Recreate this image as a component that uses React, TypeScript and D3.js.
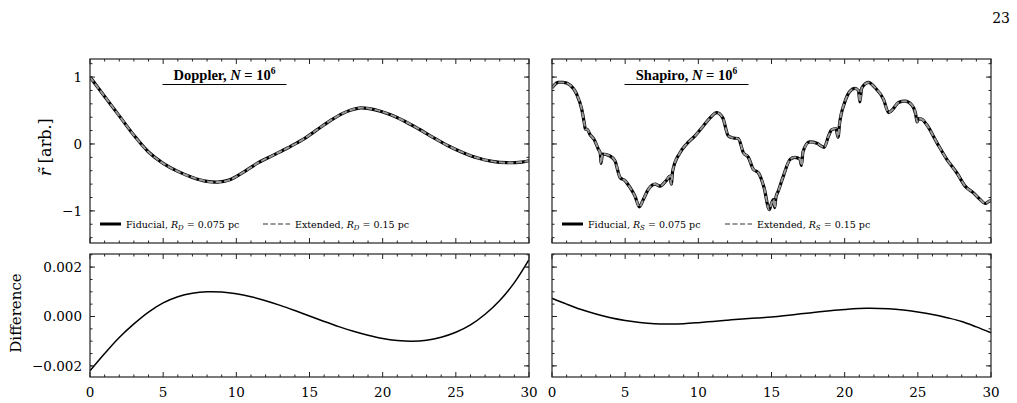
import React from "react";
import * as d3 from "d3";

// curve readings, x in [0, 30]
const dopX = [0, 1, 2, 3, 4, 5, 6, 7, 8, 8.7, 9.5, 10.5, 11.5, 12.5, 13.5, 14.5, 15.5, 16.5, 17.5, 18.5, 19.5, 20.5, 21.5, 22.5, 23.5, 24.5, 25.5, 26.5, 27.5, 28.5, 29.5, 30];
const dopY = [1.0, 0.71, 0.42, 0.13, -0.12, -0.29, -0.41, -0.5, -0.56, -0.57, -0.54, -0.42, -0.28, -0.17, -0.06, 0.06, 0.21, 0.36, 0.48, 0.54, 0.51, 0.44, 0.34, 0.22, 0.09, -0.03, -0.13, -0.21, -0.26, -0.28, -0.27, -0.25];

const shapX = [0, 0.43, 0.77, 1.23, 1.69, 2.03, 2.2, 2.28, 2.4, 2.6, 2.87, 3.17, 3.3, 3.35, 3.45, 3.96, 4.3, 4.65, 5.0, 5.33, 5.67, 5.97, 6.24, 6.58, 7.04, 7.38, 7.79, 8.07, 8.15, 8.25, 8.75, 9.2, 9.77, 10.34, 10.8, 11.26, 11.67, 12.05, 12.4, 12.73, 13.08, 13.42, 13.76, 14.1, 14.49, 14.85, 14.95, 15.13, 15.22, 15.3, 15.47, 15.81, 16.27, 16.6, 16.95, 17.05, 17.15, 17.6, 18.1, 18.6, 18.9, 19.1, 19.4, 19.55, 19.65, 20.0, 20.37, 20.7, 20.94, 21.04, 21.15, 21.24, 21.63, 22.08, 22.65, 23.0, 23.3, 23.67, 24.13, 24.6, 24.85, 24.95, 25.05, 25.27, 25.6, 26.3, 26.98, 27.66, 28.23, 28.8, 29.26, 29.6, 29.94, 30];
const shapY = [0.84, 0.92, 0.92, 0.88, 0.74, 0.52, 0.32, 0.22, 0.22, 0.14, 0.07, -0.08, -0.14, -0.29, -0.15, -0.18, -0.25, -0.5, -0.55, -0.65, -0.78, -0.94, -0.83, -0.68, -0.6, -0.63, -0.55, -0.48, -0.6, -0.4, -0.13, 0.0, 0.12, 0.27, 0.39, 0.47, 0.39, 0.12, 0.09, 0.08, -0.13, -0.2, -0.38, -0.43, -0.65, -0.98, -0.92, -0.83, -0.95, -0.8, -0.7, -0.48, -0.23, -0.2, -0.23, -0.32, -0.12, 0.03, 0.01, -0.05, 0.12, 0.21, 0.23, 0.1, 0.3, 0.62, 0.79, 0.83, 0.8, 0.63, 0.82, 0.86, 0.92, 0.84, 0.67, 0.47, 0.52, 0.62, 0.64, 0.58, 0.45, 0.33, 0.38, 0.37, 0.29, 0.02, -0.23, -0.43, -0.63, -0.73, -0.83, -0.89, -0.85, -0.85];

const diffDopX = [0, 1, 2, 3, 4, 5, 6, 7, 8, 9, 10, 11, 12, 13, 14, 15, 16, 17, 18, 19, 20, 21, 22, 23, 24, 25, 26, 27, 28, 29, 30];
const diffDopY = [-0.0022, -0.0015, -0.00085, -0.0003, 0.00018, 0.00055, 0.0008, 0.00094, 0.001, 0.00099, 0.00092, 0.0008, 0.00064, 0.00045, 0.00024, 0.00002, -0.0002, -0.00041, -0.0006, -0.00076, -0.00089, -0.00097, -0.001, -0.00096, -0.00084, -0.00064, -0.00034, 0.00009, 0.00065, 0.00137, 0.0023];

const diffShapX = [0, 1, 2, 3, 4, 5, 6, 7, 8, 9, 10, 11, 12, 13, 14, 15, 16, 17, 18, 19, 20, 21.5, 23, 24, 25, 26, 27, 28, 29, 30];
const diffShapY = [0.00074, 0.0005, 0.00028, 0.0001, -0.00005, -0.00016, -0.00024, -0.00029, -0.0003, -0.00029, -0.00025, -0.0002, -0.00015, -0.0001, -0.00006, -0.00002, 0.00004, 0.00011, 0.00017, 0.00023, 0.00028, 0.00033, 0.00031, 0.00026, 0.00018, 0.00008, -0.00005, -0.0002, -0.00042, -0.00066];

const xTicks = [0, 5, 10, 15, 20, 25, 30];
const xMinor = d3.range(0, 31, 1);
const rTicks = [-1, 0, 1];
const rLabels = ["\u22121", "0", "1"];
const rMinor = d3.range(-1.4, 1.25, 0.2);
const dTicks = [-0.002, 0, 0.002];
const dLabels = ["\u22120.002", "0.000", "0.002"];
const dMinor = d3.range(-0.002, 0.00251, 0.0005);

const FONT = "'DejaVu Serif', serif";
const LFONT = "'Liberation Serif', serif";
const FRAME = "#222";

type Frame = { x0: number; x1: number; y0: number; y1: number };

function Axes({ f, x, y, major, minor, labels, showY, showX }: any) {
  const T = 5, t = 2.5;
  const els: any[] = [];
  xMinor.forEach((v, i) => {
    const big = xTicks.includes(v);
    const L = big ? T : t;
    els.push(<line key={"xb" + i} x1={x(v)} x2={x(v)} y1={f.y1} y2={f.y1 - L} />);
    els.push(<line key={"xt" + i} x1={x(v)} x2={x(v)} y1={f.y0} y2={f.y0 + L} />);
  });
  minor.forEach((v: number, i: number) => {
    const yy = y(v);
    if (yy < f.y0 || yy > f.y1) return;
    els.push(<line key={"yl" + i} x1={f.x0} x2={f.x0 + t} y1={yy} y2={yy} />);
    els.push(<line key={"yr" + i} x1={f.x1} x2={f.x1 - t} y1={yy} y2={yy} />);
  });
  major.forEach((v: number, i: number) => {
    const yy = y(v);
    els.push(<line key={"Yl" + i} x1={f.x0} x2={f.x0 + T} y1={yy} y2={yy} />);
    els.push(<line key={"Yr" + i} x1={f.x1} x2={f.x1 - T} y1={yy} y2={yy} />);
  });
  return (
    <g>
      <g stroke={FRAME} strokeWidth={1}>{els}</g>
      <rect x={f.x0} y={f.y0} width={f.x1 - f.x0} height={f.y1 - f.y0} fill="none" stroke={FRAME} strokeWidth={1.2} />
      {showY &&
        major.map((v: number, i: number) => (
          <text key={"yt" + i} x={f.x0 - 8} y={y(v)} dy="0.36em" textAnchor="end" fontSize={13.5} fontFamily={FONT}>
            {labels[i]}
          </text>
        ))}
      {showX &&
        xTicks.map((v, i) => (
          <text key={"xl" + i} x={x(v)} y={f.y1 + 20} textAnchor="middle" fontSize={13.5} fontFamily={FONT}>
            {v}
          </text>
        ))}
    </g>
  );
}

function Legend({ x0, y, sub }: { x0: number; y: number; sub: string }) {
  return (
    <g fontFamily={FONT} fontSize={9.5}>
      <line x1={x0} x2={x0 + 21} y1={y} y2={y} stroke="#000" strokeWidth={3} />
      <text x={x0 + 26} y={y + 3.5}>
        Fiducial, <tspan fontStyle="italic">R</tspan>
        <tspan fontSize={7} dy={2} fontStyle="italic">{sub}</tspan>
        <tspan dy={-2}> = 0.075 pc</tspan>
      </text>
      <line x1={x0 + 163} x2={x0 + 190} y1={y} y2={y} stroke="#999" strokeWidth={2} strokeDasharray="5,2.5" />
      <text x={x0 + 195} y={y + 3.5}>
        Extended, <tspan fontStyle="italic">R</tspan>
        <tspan fontSize={7} dy={2} fontStyle="italic">{sub}</tspan>
        <tspan dy={-2}> = 0.15 pc</tspan>
      </text>
    </g>
  );
}

function Title({ cx, name }: { cx: number; name: string }) {
  return (
    <g fontFamily={LFONT} fontWeight="bold" fontSize={14.5}>
      <text x={cx} y={80} textAnchor="middle">
        {name}, <tspan fontStyle="italic">N</tspan> = 10<tspan fontSize={9.5} dy={-6}>6</tspan>
      </text>
      <line x1={cx - 62} x2={cx + 62} y1={84.5} y2={84.5} stroke="#000" strokeWidth={1} />
    </g>
  );
}

export default function App() {
  const W = 1017, H = 403;
  const cols = [
    { x0: 90, x1: 529 },
    { x0: 552, x1: 991 },
  ];
  const top = { y0: 59, y1: 243 };
  const bot = { y0: 254, y1: 377 };

  const panels = [
    { name: "Doppler", sub: "D", xs: dopX, ys: dopY, dx: diffDopX, dy: diffDopY },
    { name: "Shapiro", sub: "S", xs: shapX, ys: shapY, dx: diffShapX, dy: diffShapY },
  ];

  return (
    <svg width={W} height={H} style={{ position: "absolute", left: 0, top: 0, background: "#fff" }}>
      <text x={1010} y={23} textAnchor="end" fontSize={14} fontFamily={FONT}>23</text>
      <text transform="translate(51,147) rotate(-90)" textAnchor="middle" fontSize={16} fontFamily={FONT}>
        <tspan fontStyle="italic">r&#771;</tspan> [arb.]
      </text>
      <text transform="translate(21,313) rotate(-90)" textAnchor="middle" fontSize={15} fontFamily={FONT}>
        Difference
      </text>
      {panels.map((p, k) => {
        const c = cols[k];
        const x = d3.scaleLinear().domain([0, 30]).range([c.x0, c.x1]);
        const yT = d3.scaleLinear().domain([-1.48, 1.27]).range([top.y1, top.y0]);
        const yB = d3.scaleLinear().domain([-0.00245, 0.00253]).range([bot.y1, bot.y0]);
        const pts = p.xs.map((v, i) => [v, p.ys[i]] as [number, number]);
        const dpts = p.dx.map((v, i) => [v, p.dy[i]] as [number, number]);
        const lineT = d3
          .line<[number, number]>()
          .x((d) => x(d[0]))
          .y((d) => yT(d[1]))
          .curve(k === 0 ? d3.curveCatmullRom.alpha(0.5) : d3.curveMonotoneX);
        const lineB = d3
          .line<[number, number]>()
          .x((d) => x(d[0]))
          .y((d) => yB(d[1]))
          .curve(d3.curveCatmullRom.alpha(0.5));
        const ft: Frame = { ...c, ...top };
        const fb: Frame = { ...c, ...bot };
        const cx = (c.x0 + c.x1) / 2 - 85;
        return (
          <g key={k}>
            <clipPath id={"ct" + k}>
              <rect x={c.x0} y={top.y0} width={c.x1 - c.x0} height={top.y1 - top.y0} />
            </clipPath>
            <g clipPath={`url(#ct${k})`} fill="none">
              <path d={lineT(pts) || ""} stroke="#000" strokeWidth={3.2} />
              <path d={lineT(pts) || ""} stroke="#999" strokeWidth={2} strokeDasharray="6,2.5" />
            </g>
            <Axes f={ft} x={x} y={yT} major={rTicks} minor={rMinor} labels={rLabels} showY={k === 0} showX={false} />
            <path d={lineB(dpts) || ""} fill="none" stroke="#000" strokeWidth={1.5} />
            <Axes f={fb} x={x} y={yB} major={dTicks} minor={dMinor} labels={dLabels} showY={k === 0} showX={true} />
            <Title cx={cx} name={p.name} />
            <Legend x0={c.x0 + 10} y={224} sub={p.sub} />
          </g>
        );
      })}
    </svg>
  );
}
